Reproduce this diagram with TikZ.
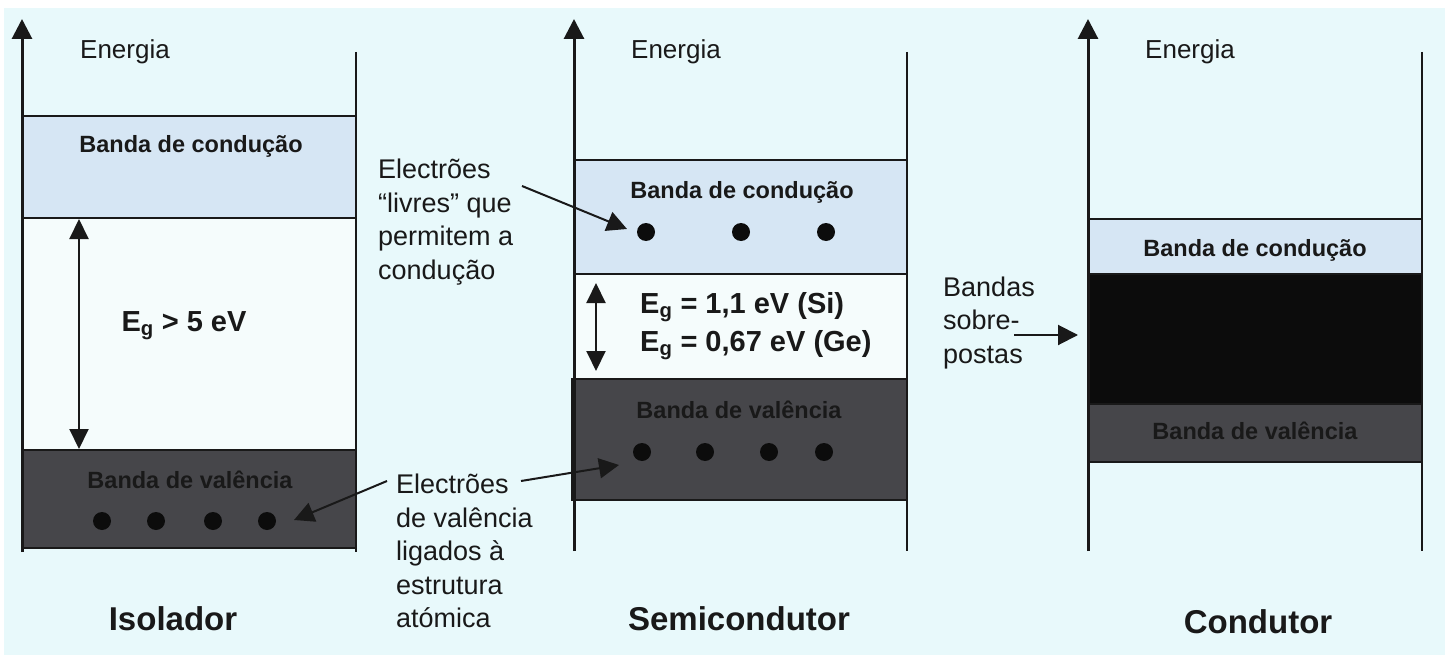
\documentclass[tikz,border=0pt]{standalone}
\usepackage{fontspec}
\setmainfont{Liberation Sans}
\usetikzlibrary{arrows.meta}
\definecolor{bgc}{RGB}{232,249,251}
\definecolor{gapc}{RGB}{245,252,252}
\definecolor{cbandc}{RGB}{214,230,244}
\definecolor{vbandc}{RGB}{70,70,74}
\definecolor{obandc}{RGB}{12,12,12}
\definecolor{inkc}{RGB}{25,25,25}
\begin{document}
\begin{tikzpicture}[x=1pt,y=-1pt,
  axisline/.style={line width=3pt,draw=inkc,-{Triangle[length=20pt,width=20pt]}},
  sideline/.style={line width=2pt,draw=inkc},
  bandbox/.style={draw=inkc,line width=2pt,inner sep=0pt,outer sep=0pt},
  gapbox/.style={fill=gapc,inner sep=0pt,outer sep=0pt,draw=none},
  cband/.style={bandbox,fill=cbandc},
  vband/.style={bandbox,fill=vbandc},
  oband/.style={bandbox,fill=obandc},
  energy/.style={font=\fontsize{26}{31}\selectfont,text=inkc,inner sep=0pt},
  bandlabel/.style={font=\bfseries\fontsize{23.5}{28}\selectfont,text=inkc,inner sep=0pt},
  eglabel/.style={font=\bfseries\fontsize{29}{38}\selectfont,text=inkc,inner sep=0pt,align=left},
  note/.style={font=\fontsize{27}{33.5}\selectfont,text=inkc,inner sep=0pt,align=left},
  title/.style={font=\bfseries\fontsize{33}{40}\selectfont,text=inkc,inner sep=0pt},
  electron/.style={circle,fill=obandc,inner sep=0pt,minimum size=18pt},
  dblarrow/.style={line width=2pt,draw=inkc,{Triangle[length=20pt,width=19pt]}-{Triangle[length=20pt,width=19pt]}},
  pointer/.style={line width=2pt,draw=inkc,-{Triangle[length=20pt,width=20pt]}}
]
% background
\fill[white] (0,0) rectangle (1445,655);
\fill[bgc] (4,8) rectangle (1445,655);
\useasboundingbox (0,0) rectangle (1445,655);

% ================= Isolador =================
\node[gapbox,minimum width=334pt,minimum height=232pt] (igap) at (189,334) {};
\node[cband,minimum width=334pt,minimum height=102pt] (icb) at (189,167) {};
\node[vband,minimum width=334pt,minimum height=98pt] (ivb) at (189,499) {};
\coordinate (iaxb) at (22,552);
\coordinate (iaxt) at (22,19);
\coordinate (irt) at (356,52);
\coordinate (irb) at (356,552);
\draw[sideline] (irt) -- (irb);
\draw[axisline] (iaxb) -- (iaxt);
\node[energy] (ien) at (125,52) {Energia};
\node[bandlabel] (icbl) at (191,146) {Banda de condução};
\node[bandlabel] (ivbl) at (190,480) {Banda de valência};
\coordinate (igt) at (79,219);
\coordinate (igb) at (79,449);
\draw[dblarrow] (igt) -- (igb);
\node[eglabel] (ieg) at (184,326) {E\textsubscript{g} > 5 eV};
\foreach \n/\x in {1/102,2/156,3/213,4/267}
  \node[electron] (ie\n) at (\x,521) {};
\node[note,anchor=west] (ivnote) at (396,551) {Electrões\\de valência\\ligados à\\estrutura\\atómica};
\coordinate (ivfrom) at (387,481);
\coordinate (ivto) at (294,520);
\draw[pointer] (ivfrom) -- (ivto);
\node[title] (iti) at (173,619) {Isolador};

% ================= Semicondutor =================
\node[gapbox,minimum width=333pt,minimum height=105pt] (sgap) at (740,326) {};
\node[cband,minimum width=333pt,minimum height=114pt] (scb) at (740,217) {};
\node[vband,minimum width=335pt,minimum height=121pt] (svb) at (739,439) {};
\coordinate (svbl1) at (573,379);
\coordinate (svbl2) at (573,500);
\draw[line width=4pt,draw=inkc] (svbl1) -- (svbl2);
\coordinate (saxb) at (574,551);
\coordinate (saxt) at (574,19);
\coordinate (srt) at (907,52);
\coordinate (srb) at (907,551);
\draw[sideline] (srt) -- (srb);
\draw[axisline] (saxb) -- (saxt);
\node[energy] (sen) at (676,52) {Energia};
\node[bandlabel] (scbl) at (742,192) {Banda de condução};
\node[bandlabel] (svbl) at (739,410) {Banda de valência};
\foreach \n/\x in {1/646,2/741,3/826}
  \node[electron] (sc\n) at (\x,232) {};
\foreach \n/\x in {1/642,2/705,3/769,4/824}
  \node[electron] (sv\n) at (\x,452) {};
\coordinate (sgt) at (596,283);
\coordinate (sgb) at (596,371);
\draw[dblarrow] (sgt) -- (sgb);
\node[eglabel,anchor=west] (seg) at (640,326) {E\textsubscript{g} = 1,1 eV (Si)\\E\textsubscript{g} = 0,67 eV (Ge)};
\node[note,anchor=west] (sfnote) at (378,222) {Electrões\\“livres” que\\permitem a\\condução};
\coordinate (sffrom) at (522,186);
\coordinate (sfto) at (627,229);
\draw[pointer] (sffrom) -- (sfto);
\coordinate (svfrom) at (521,481);
\coordinate (svto) at (619,465);
\draw[pointer] (svfrom) -- (svto);
\node[title] (sti) at (739,619) {Semicondutor};

% ================= Condutor =================
\node[cband,minimum width=334pt,minimum height=55pt] (ccb) at (1255,246.5) {};
\node[oband,minimum width=334pt,minimum height=130pt] (cob) at (1255,339) {};
\node[vband,minimum width=334pt,minimum height=58pt] (cvb) at (1255,433) {};
\coordinate (caxb) at (1088,551);
\coordinate (caxt) at (1088,19);
\coordinate (crt) at (1422,52);
\coordinate (crb) at (1422,551);
\draw[sideline] (crt) -- (crb);
\draw[axisline] (caxb) -- (caxt);
\node[energy] (cen) at (1190,52) {Energia};
\node[bandlabel] (ccbl) at (1255,250) {Banda de condução};
\node[bandlabel] (cvbl) at (1255,431) {Banda de valência};
\node[note,anchor=west] (conote) at (943,323) {Bandas\\sobre-\\postas};
\coordinate (cofrom) at (1014,335);
\coordinate (coto) at (1078,335);
\draw[pointer] (cofrom) -- (coto);
\node[title] (cti) at (1258,622) {Condutor};
\end{tikzpicture}
\end{document}
